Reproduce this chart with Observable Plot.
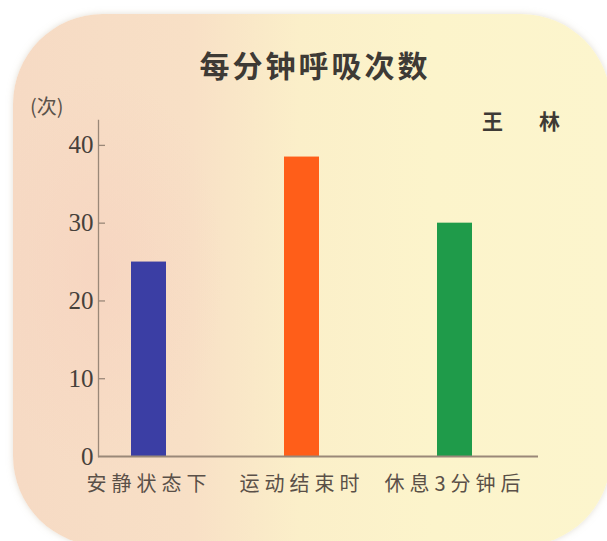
<!DOCTYPE html>
<html>
<head>
<meta charset="utf-8">
<script src="https://cdn.jsdelivr.net/npm/d3@7"></script>
<script src="https://cdn.jsdelivr.net/npm/@observablehq/plot@0.6"></script>
<style>
  html, body { margin: 0; padding: 0; background: #ffffff; width: 607px; height: 541px; overflow: hidden; }
  #card {
    position: absolute; left: 13px; top: 14px; width: 598px; height: 532px;
    border-radius: 90px;
    background:
      radial-gradient(ellipse 120px 200px at 90px 260px, rgba(246,208,190,0.55), rgba(246,208,190,0) 100%),
      linear-gradient(90deg, #f6dac4 0%, #f8e0c6 30%, #fbefc9 48%, #fcf4cb 70%, #fcf5cd 100%);
    box-shadow: 0 0 6px rgba(200,190,170,0.5);
  }
  .lbl { position: absolute; font-family: "Noto Sans CJK SC", sans-serif; color: #3e3a35; white-space: nowrap; }
  #title { left: 0; width: 630px; top: 44px; text-align: center; font-size: 30px; font-weight: 700; letter-spacing: 3px; line-height: 40px; }
  #unit { left: 30px; top: 92px; font-size: 20px; line-height: 28px; color: #5b524a; }
  #author { left: 482px; top: 106px; font-size: 21px; font-weight: 700; line-height: 28px; letter-spacing: 36px; }
  #chart { position: absolute; left: 0; top: 0; }
  #chart g[aria-label="x-axis tick label"] text { letter-spacing: 5px; }
</style>
</head>
<body>
<div id="card"></div>
<div class="lbl" id="title">每分钟呼吸次数</div>
<div class="lbl" id="unit">(次)</div>
<div class="lbl" id="author">王林</div>
<div id="chart"></div>
<script>
const categories = ["安静状态下", "运动结束时", "休息3分钟后"];
const values = [25, 38.5, 30];
const barColors = ["#3b3ea4", "#ff5e19", "#1f9b4a"];
const yTicks = [0, 10, 20, 30, 40];

const data = categories.map((c, i) => ({category: c, value: values[i]}));
const axisColor = "#9a8878";

const plot = Plot.plot({
  width: 607,
  height: 541,
  marginLeft: 98,
  marginRight: 69,
  marginTop: 120,
  marginBottom: 85,
  style: {background: "transparent", overflow: "visible"},
  x: {domain: categories, paddingInner: 0.772, paddingOuter: 0.319, align: 0.337, label: null},
  y: {domain: [0, 43.2], label: null},
  color: {domain: categories, range: barColors},
  marks: [
    Plot.barY(data, {x: "category", y: "value", fill: "category"}),
    Plot.frame({anchor: "left", stroke: axisColor, strokeWidth: 1.3}),
    Plot.ruleY([0], {stroke: axisColor, strokeWidth: 2}),
    Plot.ruleY(yTicks.slice(1), {stroke: axisColor, strokeWidth: 1.3, insetRight: 433}),
    Plot.axisY({ticks: yTicks, tickSize: 0, tickPadding: 5, fontSize: 25, fontFamily: "Liberation Serif", fill: "#46403a", label: null}),
    Plot.axisX({tickSize: 0, tickPadding: 20, fontSize: 20, fontFamily: "Noto Sans CJK SC", fill: "#5a5048", label: null})
  ]
});
document.getElementById("chart").appendChild(plot);
</script>
</body>
</html>
